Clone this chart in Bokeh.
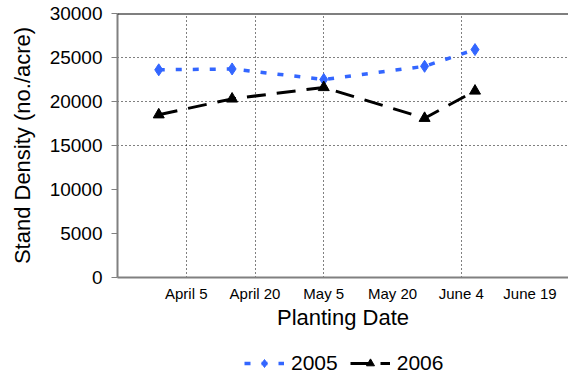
from bokeh.plotting import figure
from bokeh.layouts import column
from bokeh.models import FixedTicker, Span, Legend, LegendItem, Range1d
from bokeh.embed import file_html
from bokeh.resources import INLINE

# Planting date as day of year
plant_day = [89, 105, 125, 147, 158]
density_2005 = [23600, 23700, 22500, 24000, 25900]
density_2006 = [18500, 20300, 21600, 18100, 21200]

tick_days = [95, 110, 125, 140, 155, 170]
tick_labels = ["April 5", "April 20", "May 5", "May 20", "June 4", "June 19"]
vgrid_days = [95, 110, 125, 155]
hgrid_vals = [15000, 20000, 25000]
y_ticks = [0, 5000, 10000, 15000, 20000, 25000, 30000]
series_names = ["2005", "2006"]

BLUE = "#3366ff"
FONT = "Liberation Sans"

p = figure(width=568, height=338, output_backend="svg", toolbar_location=None,
           x_range=Range1d(80, 178.4), y_range=Range1d(0, 30000),
           min_border_left=117, min_border_right=0, min_border_top=13, min_border_bottom=61)
p.outline_line_color = None
p.background_fill_color = "white"
p.border_fill_color = "white"

# axes
p.xaxis.ticker = FixedTicker(ticks=tick_days)
p.xaxis.major_label_overrides = {d: l for d, l in zip(tick_days, tick_labels)}
p.xaxis.major_tick_out = 0
p.xaxis.major_tick_in = 0
p.xaxis.minor_tick_line_color = None
p.xaxis.axis_line_color = "#808080"
p.xaxis.axis_line_width = 2
p.xaxis.major_label_text_font = FONT
p.xaxis.major_label_text_font_size = "15px"
p.xaxis.major_label_text_color = "black"
p.xaxis.major_label_standoff = 7
p.xaxis.axis_label = "Planting Date"
p.xaxis.axis_label_text_font = FONT
p.xaxis.axis_label_text_font_size = "22px"
p.xaxis.axis_label_text_font_style = "normal"
p.xaxis.axis_label_text_color = "black"
p.xaxis.axis_label_standoff = 0

p.yaxis.ticker = FixedTicker(ticks=y_ticks)
p.yaxis.major_tick_out = 6
p.yaxis.major_tick_in = 0
p.yaxis.major_tick_line_color = "#808080"
p.yaxis.major_tick_line_width = 1
p.yaxis.minor_tick_line_color = None
p.yaxis.axis_line_color = "#808080"
p.yaxis.axis_line_width = 2
p.yaxis.major_label_text_font = FONT
p.yaxis.major_label_text_font_size = "19px"
p.yaxis.major_label_text_color = "black"
p.yaxis.major_label_standoff = 9
p.yaxis.axis_label = "Stand Density (no./acre)"
p.yaxis.axis_label_text_font = FONT
p.yaxis.axis_label_text_font_size = "22px"
p.yaxis.axis_label_text_font_style = "normal"
p.yaxis.axis_label_text_color = "black"
p.yaxis.axis_label_standoff = 12

# grids
p.xgrid.ticker = FixedTicker(ticks=vgrid_days)
p.ygrid.ticker = FixedTicker(ticks=hgrid_vals)
for g in (p.xgrid, p.ygrid):
    g.grid_line_color = "black"
    g.grid_line_dash = "1 3"
    g.grid_line_width = 1

# top border
p.add_layout(Span(location=30000, dimension="width", line_color="black", line_width=2))

# series styles
style_05 = dict(line_color=BLUE, line_width=3.5, line_dash="6 11")
mark_05 = dict(marker="diamond", size=12, fill_color=BLUE, line_color=BLUE)
style_06 = dict(line_color="black", line_width=3, line_dash="19 11")
mark_06 = dict(marker="triangle", size=11, fill_color="black", line_color="black")

p.line(plant_day, density_2005, **style_05)
p.scatter(plant_day, density_2005, **mark_05)
p.line(plant_day, density_2006, **style_06)
p.scatter(plant_day, density_2006, **mark_06)

# legend strip below the chart (its renderers carry the series, kept out of view)
q = figure(width=568, height=37, output_backend="svg", toolbar_location=None,
           x_axis_type=None, y_axis_type=None,
           x_range=Range1d(0, 1), y_range=Range1d(0, 1),
           min_border_left=0, min_border_right=0, min_border_top=0, min_border_bottom=0)
q.outline_line_color = None
q.grid.visible = False
q.border_fill_color = "white"
q.background_fill_color = "white"
ql05 = q.line(plant_day, density_2005, **style_05)
qm05 = q.scatter(plant_day, density_2005, **mark_05)
ql06 = q.line(plant_day, density_2006, **style_06)
qm06 = q.scatter(plant_day, density_2006, **mark_06)

legend = Legend(items=[LegendItem(label=series_names[0], renderers=[ql05, qm05]),
                       LegendItem(label=series_names[1], renderers=[ql06, qm06])],
                orientation="horizontal", location=(127, 0),
                glyph_width=40, glyph_height=20, label_standoff=7, spacing=12,
                label_text_font=FONT, label_text_font_size="21px",
                label_text_color="black",
                border_line_color=None, background_fill_alpha=0,
                padding=0, margin=0)
q.add_layout(legend, "center")

open("out.html", "w").write(file_html(column(p, q), INLINE))
